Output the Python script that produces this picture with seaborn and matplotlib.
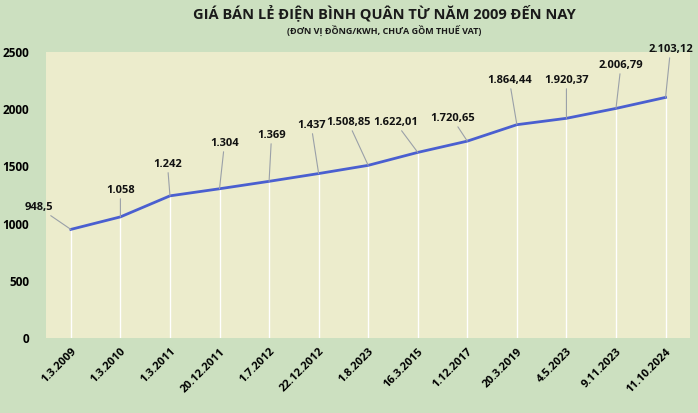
import matplotlib
matplotlib.use("Agg")
import matplotlib.pyplot as plt
import seaborn as sns
import pandas as pd

plt.rcParams["font.family"] = "Open Sans"

dates = ["1.3.2009", "1.3.2010", "1.3.2011", "20.12.2011", "1.7.2012", "22.12.2012",
         "1.8.2023", "16.3.2015", "1.12.2017", "20.3.2019", "4.5.2023", "9.11.2023", "11.10.2024"]
prices = [948.5, 1058, 1242, 1304, 1369, 1437, 1508.85, 1622.01, 1720.65, 1864.44, 1920.37, 2006.79, 2103.12]
labels = ["948,5", "1.058", "1.242", "1.304", "1.369", "1.437", "1.508,85", "1.622,01",
          "1.720,65", "1.864,44", "1.920,37", "2.006,79", "2.103,12"]
# label positions (category offset, value)
label_dx = [-0.65, 0.0, -0.05, 0.1, 0.05, -0.15, -0.4, -0.45, -0.3, -0.15, 0.0, 0.1, 0.1]
label_y = [1093, 1241, 1469, 1652, 1722, 1810, 1836, 1836, 1870, 2203, 2203, 2334, 2474]

df = pd.DataFrame({"date": dates, "price": prices})
x = list(range(len(dates)))

fig = plt.figure(figsize=(6.98, 4.13), dpi=100, facecolor="#cce0c0")
ax = fig.add_axes([0.066, 0.182, 0.923, 0.692])
ax.set_facecolor("#ececcc")
for s in ax.spines.values():
    s.set_visible(False)

ax.vlines(x, 0, prices, color="white", lw=1)
sns.lineplot(x=x, y=df["price"], ax=ax, color="#4a5fd0", lw=2)

for i in x:
    tx, ty = i + label_dx[i], label_y[i]
    ax.annotate(labels[i], xy=(i, prices[i]), xytext=(tx, ty), ha="center", va="bottom",
                fontsize=8, fontweight="bold", color="#111111",
                arrowprops=dict(arrowstyle="-", color="#9aa0a8", lw=0.8, shrinkA=0, shrinkB=0))

ax.set_xlim(-0.5, len(dates) - 0.5)
ax.set_ylim(0, 2500)
ax.set_yticks(range(0, 2501, 500))
ax.set_xticks(x)
ax.set_xticklabels(dates, rotation=45, ha="right", rotation_mode="anchor", fontsize=8, fontweight="bold")
ax.tick_params(axis="y", labelsize=8.5, length=0, pad=12)
ax.tick_params(axis="x", length=0, pad=6)
for t in ax.get_yticklabels():
    t.set_fontweight("bold")
ax.set_xlabel("")
ax.set_ylabel("")

fig.text(0.55, 0.955, "GIÁ BÁN LẺ ĐIỆN BÌNH QUÂN TỪ NĂM 2009 ĐẾN NAY", ha="center",
         fontsize=10.5, fontweight="bold", color="#1a1a1a")
fig.text(0.55, 0.915, "(ĐƠN VỊ ĐỒNG/KWH, CHƯA GỒM THUẾ VAT)", ha="center",
         fontsize=6.5, fontweight="bold", color="#1a1a1a")

fig.savefig("out.png", dpi=100, facecolor=fig.get_facecolor())
